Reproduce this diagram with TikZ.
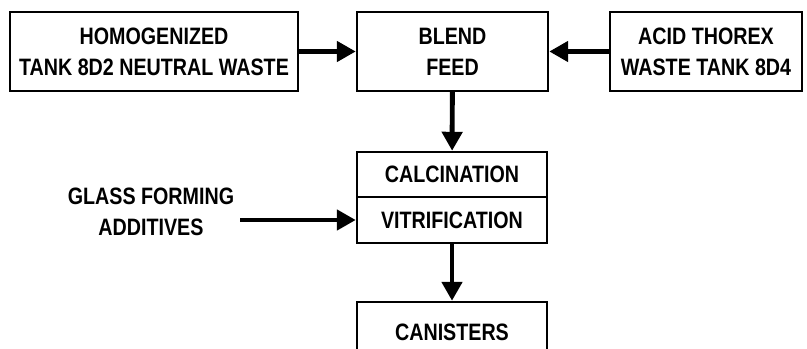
\documentclass[tikz,border=0pt]{standalone}
\usepackage{fontspec}
\setmainfont[FakeStretch=0.83]{Liberation Sans}
\usetikzlibrary{arrows.meta,positioning}

\begin{document}
\begin{tikzpicture}
  [x=0.02cm,y=-0.02cm,
   every node/.style={align=center,font=\fontsize{13.5}{17.6}\selectfont\bfseries},
   box/.style={draw,line width=1.4pt,inner sep=0pt},
   flow/.style={line width=2.8pt,-{Triangle[length=0.38cm,width=0.4cm]}}]
  \useasboundingbox (0,0) rectangle (807,348);

  \node[box,minimum width=288*0.02cm,minimum height=79*0.02cm] (homog) at (154,51.5) {HOMOGENIZED\\TANK 8D2 NEUTRAL WASTE};
  \node[box,minimum width=191*0.02cm,minimum height=79*0.02cm] (blend) at (452.5,51.5) {BLEND\\FEED};
  \node[box,minimum width=192*0.02cm,minimum height=79*0.02cm] (acid) at (706,51.5) {ACID THOREX\\WASTE TANK 8D4};
  \node[box,minimum width=190*0.02cm,minimum height=45*0.02cm] (calc) at (452,174.5) {CALCINATION};
  \node[box,minimum width=190*0.02cm,minimum height=46*0.02cm] (vitr) at (452,220) {VITRIFICATION};
  \node[box,minimum width=190*0.02cm,minimum height=60*0.02cm,text depth=-8pt] (can) at (452,332) {CANISTERS};
  \node (glass) at (151,212) {GLASS FORMING\\ADDITIVES};

  \draw[flow] (homog) -- (blend);
  \draw[flow] (acid) -- (blend);
  \draw[flow] (blend) -- (calc);
  \draw[flow] (vitr) -- (can);
  \draw[flow] (glass.east |- vitr.west) -- (vitr.west);

\end{tikzpicture}
\end{document}
